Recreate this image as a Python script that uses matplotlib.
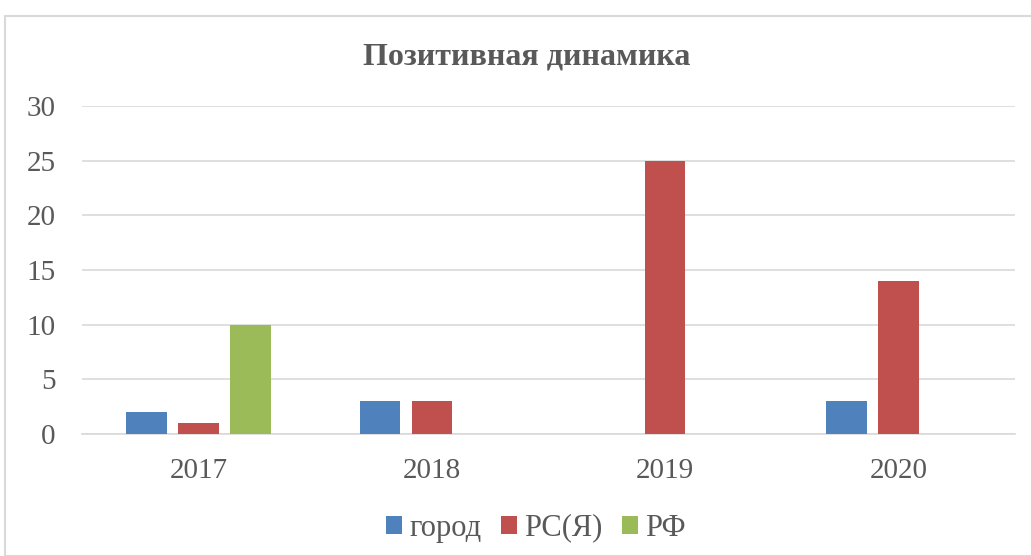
import matplotlib
matplotlib.use("Agg")
import matplotlib.pyplot as plt
from matplotlib.patches import Rectangle
import numpy as np

categories = ["2017", "2018", "2019", "2020"]
series_names = ["город", "РС(Я)", "РФ"]
gorod = [2, 3, 0, 3]
rs_ya = [1, 3, 25, 14]
rf = [10, 0, 0, 0]
colors = ["#4F81BD", "#C0504D", "#9BBB59"]

plt.rcParams['font.family'] = ['Liberation Serif', 'DejaVu Serif']
text_color = "#595959"
grid_color = "#D9D9D9"

fig = plt.figure(figsize=(10.31, 5.56), dpi=100)
ax = fig.add_axes([0.0795, 0.2194, 0.905, 0.59])

x = np.arange(len(categories))
width = 0.174
step = 0.223
for i, (vals, name) in enumerate(zip([gorod, rs_ya, rf], series_names)):
    offs = (i - 1) * step
    xs = [xi + offs for xi, v in zip(x, vals) if v != 0]
    vs = [v for v in vals if v != 0]
    ax.bar(xs, vs, width=width, color=colors[i], label=name, zorder=3)

ax.set_xlim(-0.5, len(categories) - 0.5)
ax.set_ylim(0, 30)
ax.set_yticks(range(0, 31, 5))
ax.set_xticks(x)
ax.set_xticklabels(categories)
ax.yaxis.grid(True, color=grid_color, linewidth=1.2, zorder=0)
for s in ["top", "right", "left"]:
    ax.spines[s].set_visible(False)
ax.spines["bottom"].set_color(grid_color)
ax.spines["bottom"].set_linewidth(1.2)
ax.tick_params(axis="both", length=0, labelsize=21, colors=text_color)
ax.tick_params(axis="x", pad=17)
ax.tick_params(axis="y", pad=19)

fig.text(0.511, 0.897, "Позитивная динамика", ha="center", va="center",
         fontsize=23, fontweight="bold", color=text_color)

leg = fig.legend(loc="center", bbox_to_anchor=(0.52, 0.05), ncol=3, frameon=False,
                 fontsize=22, handlelength=0.5, handleheight=0.5, handletextpad=0.25,
                 columnspacing=0.65, labelcolor=text_color)

fig.patches.append(Rectangle((0.005, 0.0), 0.997, 0.972, transform=fig.transFigure,
                             fill=False, edgecolor=grid_color, linewidth=1.5))

fig.savefig("out.png", dpi=100)
